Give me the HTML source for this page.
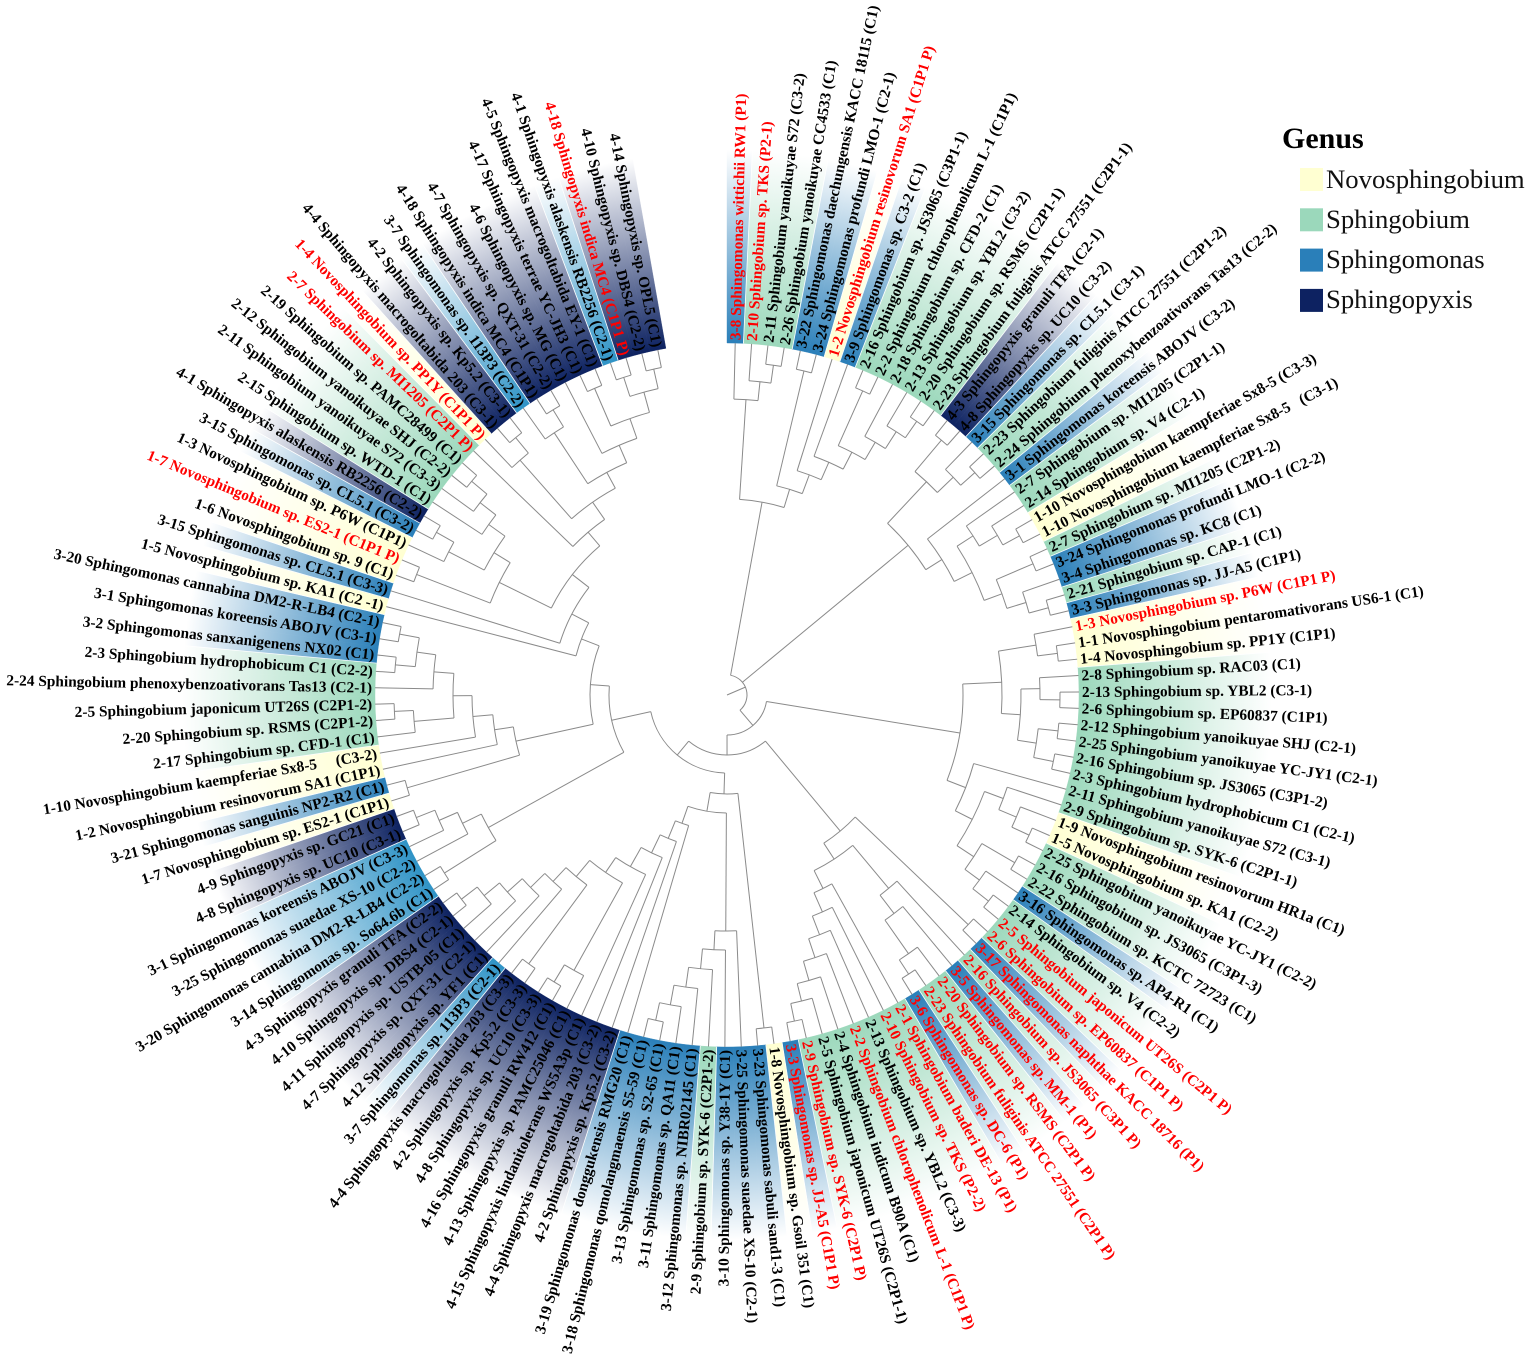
<!DOCTYPE html>
<html lang="en">
<head>
<meta charset="utf-8">
<title>Circular phylogenetic tree by genus</title>
<style>
html,body{margin:0;padding:0;background:#fff}
svg{display:block}
text{font-family:"Liberation Serif",serif}
.leaf{font-weight:bold;font-size:15.35px;white-space:pre}
</style>
</head>
<body>
<svg id="chart" xmlns="http://www.w3.org/2000/svg" width="1535" height="1362" viewBox="0 0 1535 1362">
  <g id="strips"></g>
  <g id="separators"></g>
  <g id="branches" fill="none" stroke="#8a8a8a" stroke-width="1"></g>
  <g id="labels"></g>
  <g id="legend"></g>
</svg>
<script>
// Leaf labels, clockwise from the top gap.
const leafLabels = [
"3-8 Sphingomonas wittichii RW1 (P1)","2-10 Sphingobium sp. TKS (P2-1)","2-11 Sphingobium yanoikuyae S72 (C3-2)","2-26 Sphingobium yanoikuyae CC4533 (C1)","3-22 Sphingomonas daechungensis KACC 18115 (C1)","3-24 Sphingomonas profundi LMO-1 (C2-1)","1-2 Novosphingobium resinovorum SA1 (C1P1 P)","3-9 Sphingomonas sp. C3-2 (C1)","2-16 Sphingobium sp. JS3065 (C3P1-1)","2-2 Sphingobium chlorophenolicum L-1 (C1P1)",
"2-18 Sphingobium sp. CFD-2 (C1)","2-13 Sphingobium sp. YBL2 (C3-2)","2-20 Sphingobium sp. RSMS (C2P1-1)","2-23 Sphingobium fuliginis ATCC 27551 (C2P1-1)","4-3 Sphingopyxis granuli TFA (C2-1)","4-8 Sphingopyxis sp. UC10 (C3-2)","3-15 Sphingomonas sp. CL5.1 (C3-1)","2-23 Sphingobium fuliginis ATCC 27551 (C2P1-2)","2-24 Sphingobium phenoxybenzoativorans Tas13 (C2-2)","3-1 Sphingomonas koreensis ABOJV (C3-2)",
"2-7 Sphingobium sp. MI1205 (C2P1-1)","2-14 Sphingobium sp. V4 (C2-1)","1-10 Novosphingobium kaempferiae Sx8-5 (C3-3)","1-10 Novosphingobium kaempferiae Sx8-5   (C3-1)","2-7 Sphingobium sp. MI1205 (C2P1-2)","3-24 Sphingomonas profundi LMO-1 (C2-2)","3-4 Sphingomonas sp. KC8 (C1)","2-21 Sphingobium sp. CAP-1 (C1)","3-3 Sphingomonas sp. JJ-A5 (C1P1)","1-3 Novosphingobium sp. P6W (C1P1 P)",
"1-1 Novosphingobium pentaromativorans US6-1 (C1)","1-4 Novosphingobium sp. PP1Y (C1P1)","2-8 Sphingobium sp. RAC03 (C1)","2-13 Sphingobium sp. YBL2 (C3-1)","2-6 Sphingobium sp. EP60837 (C1P1)","2-12 Sphingobium yanoikuyae SHJ (C2-1)","2-25 Sphingobium yanoikuyae YC-JY1 (C2-1)","2-16 Sphingobium sp. JS3065 (C3P1-2)","2-3 Sphingobium hydrophobicum C1 (C2-1)","2-11 Sphingobium yanoikuyae S72 (C3-1)",
"2-9 Sphingobium sp. SYK-6 (C2P1-1)","1-9 Novosphingobium resinovorum HR1a (C1)","1-5 Novosphingobium sp. KA1 (C2-2)","2-25 Sphingobium yanoikuyae YC-JY1 (C2-2)","2-16 Sphingobium sp. JS3065 (C3P1-3)","2-22 Sphingobium sp. KCTC 72723 (C1)","3-16 Sphingomonas sp. AP4-R1 (C1)","2-14 Sphingobium sp. V4 (C2-2)","2-5 Sphingobium japonicum UT26S (C2P1 P)","2-6 Sphingobium sp. EP60837 (C1P1 P)",
"3-17 Sphingomonas naphthae KACC 18716 (P1)","2-16 Sphingobium sp. JS3065 (C3P1 P)","3-5 Sphingomonas sp. MM-1 (P1)","2-20 Sphingobium sp. RSMS (C2P1 P)","2-23 Sphingobium fuliginis ATCC 27551 (C2P1 P)","3-6 Sphingomonas sp. DC-6 (P1)","2-1 Sphingobium baderi DE-13 (P1)","2-10 Sphingobium sp. TKS (P2-2)","2-13 Sphingobium sp. YBL2 (C3-3)","2-2 Sphingobium chlorophenolicum L-1 (C1P1 P)",
"2-4 Sphingobium indicum B90A (C1)","2-5 Sphingobium japonicum UT26S (C2P1-1)","2-9 Sphingobium sp. SYK-6 (C2P1 P)","3-3 Sphingomonas sp. JJ-A5 (C1P1 P)","1-8 Novosphingobium sp. Gsoil 351 (C1)","3-23 Sphingomonas sabuli sand1-3 (C1)","3-25 Sphingomonas suaedae XS-10 (C2-1)","3-10 Sphingomonas sp. Y38-1Y (C1)","2-9 Sphingobium sp. SYK-6 (C2P1-2)","3-12 Sphingomonas sp. NIBR02145 (C1)",
"3-11 Sphingomonas sp. QA11 (C1)","3-13 Sphingomonas sp. S2-65 (C1)","3-18 Sphingomonas qomolangmaensis S5-59 (C1)","3-19 Sphingomonas donggukensis RMG20 (C1)","4-2 Sphingopyxis sp. Kp5.2 (C3-2)","4-4 Sphingopyxis macrogoltabida 203 (C3-2)","4-15 Sphingopyxis lindanitolerans WS5A3p (C1)","4-13 Sphingopyxis sp. PAMC25046 (C1)","4-16 Sphingopyxis granuli RW412 (C1)","4-8 Sphingopyxis sp. UC10 (C3-3)",
"4-2 Sphingopyxis sp. Kp5.2 (C3-3)","4-4 Sphingopyxis macrogoltabida 203 (C3-3)","3-7 Sphingomonas sp. 113P3 (C2-1)","4-12 Sphingopyxis sp. YF1 (C1)","4-7 Sphingopyxis sp. QXT-31 (C2-1)","4-11 Sphingopyxis sp. USTB-05 (C1)","4-10 Sphingopyxis sp. DBS4 (C2-1)","4-3 Sphingopyxis granuli TFA (C2-2)","3-14 Sphingomonas sp. So64.6b (C1)","3-20 Sphingomonas cannabina DM2-R-LB4 (C2-2)",
"3-25 Sphingomonas suaedae XS-10 (C2-2)","3-1 Sphingomonas koreensis ABOJV (C3-3)","4-8 Sphingopyxis sp. UC10 (C3-1)","4-9 Sphingopyxis sp. GC21 (C1)","1-7 Novosphingobium sp. ES2-1 (C1P1)","3-21 Sphingomonas sanguinis NP2-R2 (C1)","1-2 Novosphingobium resinovorum SA1 (C1P1)","1-10 Novosphingobium kaempferiae Sx8-5     (C3-2)","2-17 Sphingobium sp. CFD-1 (C1)","2-20 Sphingobium sp. RSMS (C2P1-2)",
"2-5 Sphingobium japonicum UT26S (C2P1-2)","2-24 Sphingobium phenoxybenzoativorans Tas13 (C2-1)","2-3 Sphingobium hydrophobicum C1 (C2-2)","3-2 Sphingomonas sanxanigenens NX02 (C1)","3-1 Sphingomonas koreensis ABOJV (C3-1)","3-20 Sphingomonas cannabina DM2-R-LB4 (C2-1)","1-5 Novosphingobium sp. KA1 (C2 -1)","3-15 Sphingomonas sp. CL5.1 (C3-3)","1-6 Novosphingobium sp. 9 (C1)","1-7 Novosphingobium sp. ES2-1 (C1P1 P)",
"1-3 Novosphingobium sp. P6W (C1P1)","3-15 Sphingomonas sp. CL5.1 (C3-2)","4-1 Sphingopyxis alaskensis RB2256 (C2-2)","2-15 Sphingobium sp. WTD-1 (C1)","2-11 Sphingobium yanoikuyae S72 (C3-3)","2-12 Sphingobium yanoikuyae SHJ (C2-2)","2-19 Sphingobium sp. PAMC28499 (C1)","2-7 Sphingobium sp. MI1205 (C2P1 P)","1-4 Novosphingobium sp. PP1Y (C1P1 P)","4-4 Sphingopyxis macrogoltabida 203 (C3-1)",
"4-2 Sphingopyxis sp. Kp5.2 (C3-1)","3-7 Sphingomonas sp. 113P3 (C2-2)","4-18 Sphingopyxis indica MC4 (C1P1)","4-7 Sphingopyxis sp. QXT-31 (C2-2)","4-6 Sphingopyxis sp. MG (C1)","4-17 Sphingopyxis terrae YC-JH3 (C1)","4-5 Sphingopyxis macrogoltabida EY-1 (C1)","4-1 Sphingopyxis alaskensis RB2256 (C2-1)","4-18 Sphingopyxis indica MC4 (C1P1 P)","4-10 Sphingopyxis sp. DBS4 (C2-2)",
"4-14 Sphingopyxis sp. OPL5 (C1)"
];
// Genus of each leaf: N Novosphingobium, B Sphingobium, M Sphingomonas, L Sphingomonas (lighter tint), X Sphingopyxis.
const leafGenus = ("MBBBMMNMBB"+"BBBBXXMBBM"+"BBNNBMMBMN"+"NNBBBBBBBB"+"BNNBBBMBBB"+"MBMBBMBBBB"+"BBBMNMMMBM"+"MMMMXXXXXX"+"XXLXXXXXLL"+"LLXXNMNNBB"+"BBBMMMNMNN"+"NMXBBBBBNX"+"XLXXXXXLXXX").split("");
// Leaves printed in red (1-based positions).
const redLeaves = [1,2,7,30,49,50,51,52,53,54,55,56,57,58,60,63,64,110,118,119,129];

// Tree clades: [branch depth, child, child]; a bare number is a leaf position.
const a1=[333,3,4], a2=[315,2,a1], a3=[296,1,a2], a4=[333,5,6], a5=[333,13,14], a6=[313,12,a5];
const a7=[293,11,a6], a8=[333,9,10], a9=[273,a8,a7], a10=[254,8,a9], a11=[235,7,a10], a12=[215,a4,a11];
const cladeA=[196,a3,a12];

const b1=[333,15,16], b2=[333,18,19], b3=[314,17,b2], b4=[292,b1,b3], b5=[333,23,24], b6=[314,22,b5];
const b7=[293,21,b6], b8=[333,25,26], b9=[333,28,29], b10=[313,27,b9], b11=[293,b8,b10], b12=[274,b7,b11], b13=[254,20,b12];
const cladeB=[235,b4,b13];

const c1=[333,31,32], c2=[313,30,c1], c3=[333,34,35], c4=[313,33,c3], c5=[333,36,37], c6=[333,38,39];
const c7=[313,c5,c6], c8=[294,c4,c7], c9=[275,c2,c8], c10=[333,43,44], c11=[314,42,c10], c12=[295,41,c11];
const c13=[333,45,46], c14=[333,48,49], c15=[313,47,c14], c16=[295,c13,c15], c17=[275,c12,c16], c18=[256,40,c17];
const cladeC=[236,c9,c18];

const e1=[333,55,56], e2=[316,54,e1], e3=[275,53,e2], e4=[252,52,e3], e5=[333,63,64], e6=[315,62,e5];
const e7=[297,61,e6], e8=[277,60,e7], e9=[257,59,e8], e10=[237,58,e9], e11=[216,57,e10], e12=[196,e4,e11], e13=[333,50,51];
const cladeE=[177,e13,e12];

const h1=[335,65,66], h2=[333,72,73], h3=[315,71,h2], h4=[295,70,h3], h5=[275,69,h4], h6=[255,68,h5], h7=[236,67,h6];
const h8=[335,79,80], h9=[315,78,h8], h10=[334,81,82], h11=[335,87,88], h12=[315,86,h11], h13=[295,85,h12];
const h14=[275,84,h13], h15=[255,83,h14], h16=[236,h10,h15], h17=[215,h9,h16], h18=[197,77,h17], h19=[175,76,h18];
const h20=[155,75,h19], h21=[136,74,h20], h22=[118,h7,h21];
const cladeH=[99,h1,h22];

const g1=[334,93,94], g2=[314,92,g1], g3=[294,91,g2], g4=[334,89,90], g5=[273,g4,g3], g6=[333,95,96];
const g7=[333,100,101], g8=[314,99,g7], g9=[333,103,104], g10=[333,105,106], g11=[313,g9,g10], g12=[294,102,g11];
const g13=[274,g8,g12], g14=[255,98,g13], g15=[235,97,g14], g16=[216,g6,g15], g17=[333,109,110], g18=[333,112,113];
const g19=[313,111,g18], g20=[333,116,117], g21=[313,115,g20], g22=[293,114,g21], g23=[273,g19,g22], g24=[254,g17,g23];
const g25=[333,120,121], g26=[313,119,g25], g27=[334,123,124], g28=[314,122,g27], g29=[334,126,127], g30=[334,128,129];
const g31=[334,130,131], g32=[314,g30,g31], g33=[293,g29,g32], g34=[272,125,g33], g35=[253,g28,g34], g36=[235,g26,g35];
const g37=[214,118,g36], g38=[196,g24,g37], g39=[175,108,g38], g40=[156,107,g39], g41=[137,g16,g40];
const cladeG=[118,g5,g41];

const cladeF=[78,cladeH,cladeG];
const cladeD=[60,cladeE,cladeF];
const cladeCD=[40,cladeC,cladeD];
const treeRoot=[20,cladeA,cladeB,cladeCD];

// Legend.
const legendNames = ["Novosphingobium","Sphingobium","Sphingomonas","Sphingopyxis"];
const legendKeys = ["N","B","M","X"];
const genusColors = {N:"#ffffd2",B:"#9bd8bb",M:"#2a7fb9",L:"#2f93c6",X:"#0d2261"};

const NS = "http://www.w3.org/2000/svg";
const cx = 727, cy = 695, leafDepth = 352, stripEnd = 545, labelStart = 355, sweep = 350;
const angleOf = pos => (pos - 0.5) * sweep / leafLabels.length;
const radiusOf = depth => depth;
const polar = (r, a) => {
  const t = a * Math.PI / 180;
  return [cx + r * Math.sin(t), cy - r * Math.cos(t)];
};
const fmt = n => n.toFixed(2);

const chartSvg = document.getElementById("chart");
const gradientDefs = document.createElementNS(NS, "defs");
chartSvg.insertBefore(gradientDefs, chartSvg.firstChild);
Object.keys(genusColors).forEach(k => {
  const grad = document.createElementNS(NS, "radialGradient");
  grad.setAttribute("id", "fade-" + k);
  grad.setAttribute("gradientUnits", "userSpaceOnUse");
  grad.setAttribute("cx", cx);
  grad.setAttribute("cy", cy);
  grad.setAttribute("r", stripEnd);
  [[leafDepth / stripEnd, genusColors[k]], [1, "#ffffff"]].forEach(s => {
    const st = document.createElementNS(NS, "stop");
    st.setAttribute("offset", s[0]);
    st.setAttribute("stop-color", s[1]);
    grad.appendChild(st);
  });
  gradientDefs.appendChild(grad);
});

// Strips and labels.
const stripLayer = document.getElementById("strips");
const sepLayer = document.getElementById("separators");
const labelLayer = document.getElementById("labels");
const halfStep = sweep / leafLabels.length / 2;
leafLabels.forEach((txt, i) => {
  const pos = i + 1, a = angleOf(pos);
  const p0 = polar(leafDepth, a - halfStep), p1 = polar(leafDepth, a + halfStep);
  const p2 = polar(stripEnd, a + halfStep), p3 = polar(stripEnd, a - halfStep);
  const strip = document.createElementNS(NS, "path");
  strip.setAttribute("d", `M${fmt(p0[0])} ${fmt(p0[1])}A${leafDepth} ${leafDepth} 0 0 1 ${fmt(p1[0])} ${fmt(p1[1])}L${fmt(p2[0])} ${fmt(p2[1])}A${stripEnd} ${stripEnd} 0 0 0 ${fmt(p3[0])} ${fmt(p3[1])}Z`);
  strip.setAttribute("fill", `url(#fade-${leafGenus[i]})`);
  strip.setAttribute("stroke", `url(#fade-${leafGenus[i]})`);
  strip.setAttribute("stroke-width", "0.4");
  
  
  stripLayer.appendChild(strip);

  if (i < leafLabels.length - 1 && leafGenus[i] !== leafGenus[i + 1]) {
    const q0 = polar(leafDepth, a + halfStep), q1 = polar(stripEnd, a + halfStep);
    const sep = document.createElementNS(NS, "line");
    sep.setAttribute("x1", fmt(q0[0]));
    sep.setAttribute("y1", fmt(q0[1]));
    sep.setAttribute("x2", fmt(q1[0]));
    sep.setAttribute("y2", fmt(q1[1]));
    sep.setAttribute("stroke", "#ffffff");
    sep.setAttribute("stroke-width", "0.8");
    
    
    sepLayer.appendChild(sep);
  }

  const at = polar(labelStart, a);
  const flip = a > 180;
  const rot = flip ? a + 90 : a - 90;
  const label = document.createElementNS(NS, "text");
  label.setAttribute("class", "leaf");
  label.setAttribute("transform", `translate(${fmt(at[0])} ${fmt(at[1])}) rotate(${fmt(rot)})`);
  label.setAttribute("dy", "0.33em");
  label.setAttribute("text-anchor", flip ? "end" : "start");
  label.setAttribute("fill", redLeaves.includes(pos) ? "#ff0000" : "#000000");
  label.textContent = txt;
  
  
  labelLayer.appendChild(label);
});

// Tree branches.
const branchLayer = document.getElementById("branches");
function addPath(d, kind) {
  const p = document.createElementNS(NS, "path");
  p.setAttribute("d", d);
  
  
  branchLayer.appendChild(p);
}
function drawNode(node) {
  if (typeof node === "number") return { angle: angleOf(node), depth: leafDepth };
  const depth = node[0];
  const kids = node.slice(1).map(drawNode);
  const r = radiusOf(depth);
  kids.forEach(k => {
    const pa = polar(r, k.angle), pb = polar(radiusOf(k.depth), k.angle);
    addPath(`M${fmt(pa[0])} ${fmt(pa[1])}L${fmt(pb[0])} ${fmt(pb[1])}`, "tree-branch");
  });
  const angles = kids.map(k => k.angle);
  const lo = Math.min(...angles), hi = Math.max(...angles);
  const ps = polar(r, lo), pe = polar(r, hi);
  addPath(`M${fmt(ps[0])} ${fmt(ps[1])}A${r} ${r} 0 ${hi - lo > 180 ? 1 : 0} 1 ${fmt(pe[0])} ${fmt(pe[1])}`, "tree-arc");
  const mean = angles.reduce((t, v) => t + v, 0) / angles.length;
  return { angle: mean, depth: depth };
}
const rootInfo = drawNode(treeRoot);
const stemEnd = polar(radiusOf(rootInfo.depth), rootInfo.angle);
addPath(`M${cx} ${cy}L${fmt(stemEnd[0])} ${fmt(stemEnd[1])}`, "tree-root-stem");

// Legend.
const legendLayer = document.getElementById("legend");
const legendTitle = document.createElementNS(NS, "text");
legendTitle.setAttribute("x", 1282);
legendTitle.setAttribute("y", 148);
legendTitle.setAttribute("font-size", "30");
legendTitle.setAttribute("font-weight", "bold");
legendTitle.textContent = "Genus";


legendLayer.appendChild(legendTitle);
legendNames.forEach((entry, i) => {
  const sw = document.createElementNS(NS, "rect");
  sw.setAttribute("x", 1300);
  sw.setAttribute("y", 168 + i * 40.3);
  sw.setAttribute("width", 23);
  sw.setAttribute("height", 23);
  sw.setAttribute("fill", genusColors[legendKeys[i]]);
  
  
  legendLayer.appendChild(sw);
  const t = document.createElementNS(NS, "text");
  t.setAttribute("x", 1326);
  t.setAttribute("y", 188 + i * 40);
  t.setAttribute("font-size", "26.7");
  t.setAttribute("fill", "#111111");
  t.textContent = entry;
  
  
  legendLayer.appendChild(t);
});
</script>
</body>
</html>
